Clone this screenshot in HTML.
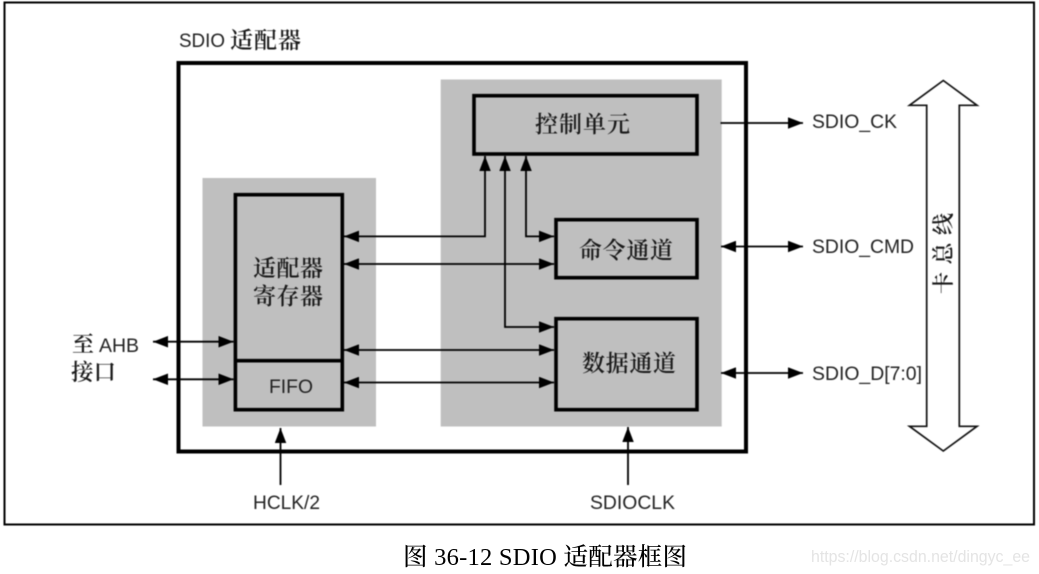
<!DOCTYPE html>
<html><head><meta charset="utf-8"><style>
html,body{margin:0;padding:0;background:#fff;width:1039px;height:574px;overflow:hidden}
svg{display:block}
.d{filter:blur(.5px)}
text{font-family:"Liberation Sans","Noto Serif CJK SC",sans-serif;fill:#222;font-size:19px}
.z{font-family:"Noto Serif CJK SC",serif;font-size:23px;font-weight:600;fill:#1a1a1a}
.c{font-family:"Liberation Serif","Noto Serif CJK SC",serif;font-size:24.500px;fill:#000;font-weight:500}
.l{stroke:#000;stroke-width:1.800;fill:none}
.h{fill:#000;stroke:none}
.b{fill:none;stroke:#000;stroke-width:3.600}
</style></head><body>
<svg width="1039" height="574" viewBox="0 0 1039 574" xmlns="http://www.w3.org/2000/svg">
<defs>
<marker id="a" markerUnits="userSpaceOnUse" viewBox="0 0 15 11.500" refX="15" refY="5.750" markerWidth="15" markerHeight="11.500" orient="auto-start-reverse"><path class="h" d="M0 0L15 5.750L0 11.500Z"/></marker>
</defs>
<g class="d">
<rect x="4.500" y="2.500" width="1029.500" height="522" fill="#fff" stroke="#000" stroke-width="2"/>
<rect x="178.500" y="63" width="567.500" height="388.500" fill="#fff" stroke="#000" stroke-width="4"/>
<rect x="202.500" y="178" width="173.500" height="248.500" fill="#bfbfbf"/>
<rect x="440.700" y="79.500" width="281" height="347" fill="#bfbfbf"/>
<rect class="b" x="235.400" y="194.700" width="106.900" height="215"/>
<line class="b" x1="235.400" y1="360.700" x2="342.300" y2="360.700"/>
<rect class="b" x="474" y="95.700" width="223" height="58.300"/>
<rect class="b" x="556" y="219.700" width="141" height="58"/>
<rect class="b" x="556" y="318.700" width="141" height="91"/>

<path class="l" d="M485 156V236.400H344" marker-start="url(#a)" marker-end="url(#a)"/>
<path class="l" d="M344 264H554" marker-start="url(#a)" marker-end="url(#a)"/>
<path class="l" d="M505 156V327H554" marker-start="url(#a)" marker-end="url(#a)"/>
<path class="l" d="M526 156V236.400H554" marker-start="url(#a)" marker-end="url(#a)"/>
<path class="l" d="M344 350H554" marker-start="url(#a)" marker-end="url(#a)"/>
<path class="l" d="M344 382.500H554" marker-start="url(#a)" marker-end="url(#a)"/>
<path class="l" d="M720.500 123H803" marker-end="url(#a)"/>
<path class="l" d="M721 246.500H803" marker-start="url(#a)" marker-end="url(#a)"/>
<path class="l" d="M721 373H803" marker-start="url(#a)" marker-end="url(#a)"/>
<path class="l" d="M153 341.700H233.500" marker-start="url(#a)" marker-end="url(#a)"/>
<path class="l" d="M153 379.300H233.500" marker-start="url(#a)" marker-end="url(#a)"/>
<path class="l" d="M280.500 485V428" marker-end="url(#a)"/>
<path class="l" d="M628 485V427" marker-end="url(#a)"/>

<path d="M943.300 80.500L977 105.300H959.300V426.300H977L943.300 451L909.500 426.300H926.700V105.300H909.500Z" fill="#fff" stroke="#111" stroke-width="1.700"/>

<text x="179" y="47" textLength="46" lengthAdjust="spacingAndGlyphs">SDIO</text>
<text class="z" x="230" y="48" style="font-size:23px" textLength="71">适配器</text>
<text class="z" x="535" y="132" textLength="95">控制单元</text>
<text class="z" x="579" y="258" textLength="94">命令通道</text>
<text class="z" x="582" y="371" textLength="94">数据通道</text>
<text class="z" x="253" y="276" textLength="70">适配器</text>
<text class="z" x="253" y="304" textLength="70">寄存器</text>
<text x="269" y="393" textLength="44" lengthAdjust="spacingAndGlyphs">FIFO</text>
<text class="z" x="72" y="352" style="font-size:22px">至</text>
<text x="99" y="352" textLength="40" lengthAdjust="spacingAndGlyphs">AHB</text>
<text class="z" x="71" y="380" style="font-size:22.500px" textLength="45">接口</text>
<text x="812" y="128" textLength="85" lengthAdjust="spacingAndGlyphs">SDIO_CK</text>
<text x="812" y="253" textLength="102" lengthAdjust="spacingAndGlyphs">SDIO_CMD</text>
<text x="812" y="380" textLength="110" lengthAdjust="spacingAndGlyphs">SDIO_D[7:0]</text>
<text x="253" y="509" textLength="67" lengthAdjust="spacingAndGlyphs">HCLK/2</text>
<text x="590" y="509" textLength="85" lengthAdjust="spacingAndGlyphs">SDIOCLK</text>
<text class="z" transform="translate(951 294) rotate(-90)" style="font-size:22px" textLength="81">卡总线</text>
</g>
<text class="c" x="403" y="565" textLength="284">图 36-12 SDIO 适配器框图</text>
<text x="811" y="562" textLength="219" lengthAdjust="spacingAndGlyphs" style="fill:#e4e4e4;font-size:17px">https://blog.csdn.net/dingyc_ee</text>
</svg>
</body></html>
